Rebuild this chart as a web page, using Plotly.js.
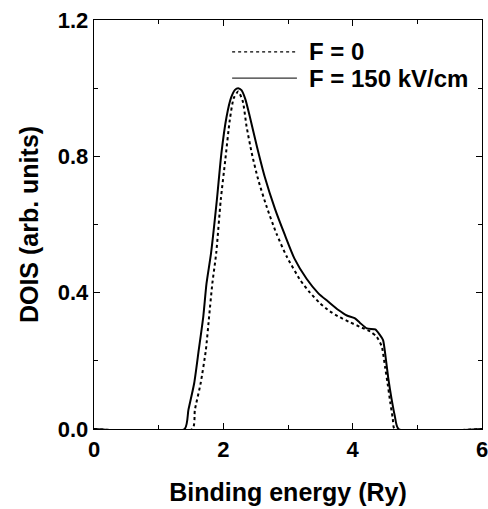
<!DOCTYPE html>
<html>
<head>
<meta charset="utf-8">
<script src="https://cdn.plot.ly/plotly-3.0.1.min.js"></script>
<style>html,body{margin:0;padding:0;background:#fff;}#chart{width:488px;height:509px;}</style>
</head>
<body>
<div id="chart"></div>
<script>
// Binding energy (Ry) and DOIS (arb. units)
var energyF0 = [0, 1.52, 1.56, 1.65, 1.73, 1.78, 1.83, 1.89, 1.96, 2.03, 2.10, 2.16, 2.23, 2.30, 2.36, 2.44, 2.54, 2.67, 2.82, 2.98, 3.19, 3.34, 3.49, 3.65, 3.80, 3.96, 4.11, 4.27, 4.37, 4.45, 4.50, 4.54, 4.58, 4.62, 4.65, 6];
var doisF0 =   [0, 0, 0.056, 0.135, 0.232, 0.33, 0.427, 0.516, 0.672, 0.789, 0.907, 0.970, 0.99, 0.962, 0.887, 0.809, 0.731, 0.652, 0.574, 0.506, 0.437, 0.40, 0.37, 0.345, 0.328, 0.313, 0.30, 0.286, 0.271, 0.242, 0.183, 0.134, 0.08, 0.031, 0, 0];

var energyF150 = [0, 1.40, 1.46, 1.55, 1.62, 1.69, 1.74, 1.81, 1.90, 1.97, 2.05, 2.12, 2.18, 2.23, 2.28, 2.34, 2.41, 2.52, 2.64, 2.80, 2.95, 3.10, 3.29, 3.47, 3.62, 3.78, 3.91, 4.03, 4.11, 4.22, 4.35, 4.42, 4.47, 4.51, 4.55, 4.60, 4.65, 4.71, 6];
var doisF150 =   [0, 0, 0.056, 0.135, 0.232, 0.33, 0.427, 0.516, 0.672, 0.809, 0.916, 0.972, 0.995, 1.0, 0.994, 0.968, 0.916, 0.828, 0.74, 0.645, 0.57, 0.50, 0.44, 0.398, 0.374, 0.349, 0.333, 0.325, 0.312, 0.295, 0.292, 0.276, 0.261, 0.21, 0.15, 0.09, 0.04, 0, 0];

var seriesNames = ["F = 0", "F = 150 kV/cm"];
var xTicks = [0, 2, 4, 6];
var yTicks = [0.0, 0.4, 0.8, 1.2];

var FONT = "Liberation Sans, Arial, Helvetica, sans-serif";

var traces = [
  {x: energyF0, y: doisF0, mode: "lines", name: seriesNames[0],
   line: {color: "#000", width: 2, dash: "dot", shape: "spline", smoothing: 0.6}, showlegend: false},
  {x: energyF150, y: doisF150, mode: "lines", name: seriesNames[1],
   line: {color: "#000", width: 2, shape: "spline", smoothing: 0.6}, showlegend: false}
];

var axisCommon = {
  showline: true, linecolor: "#000", linewidth: 1.3, mirror: "ticks",
  ticks: "inside", ticklen: 6, tickwidth: 1.3, tickcolor: "#000",
  showgrid: false, zeroline: false, fixedrange: true,
  ticklabeloverflow: "allow",
  tickfont: {family: FONT, size: 22, color: "#000", weight: "bold"},
  minor: {ticks: "inside", ticklen: 4, tickwidth: 1, tickcolor: "#000"}
};

var layout = {
  width: 488, height: 509,
  margin: {l: 94, r: 6, t: 20, b: 80},
  paper_bgcolor: "#fff", plot_bgcolor: "#fff",
  font: {family: FONT, color: "#000"},
  xaxis: Object.assign({}, axisCommon, {
    range: [0, 6], tickvals: xTicks, ticktext: xTicks.map(String),
    minor: Object.assign({}, axisCommon.minor, {tickvals: [1, 3, 5]}),
    tickfont: {family: FONT, size: 22, color: "#000", weight: "bold"},
    title: {text: "Binding energy (Ry)", font: {family: FONT, size: 25, color: "#000", weight: "bold"}, standoff: 22}
  }),
  yaxis: Object.assign({}, axisCommon, {
    range: [0, 1.2], tickvals: yTicks, ticktext: yTicks.map(function(v){return v.toFixed(1);}),
    minor: Object.assign({}, axisCommon.minor, {tickvals: [0.2, 0.6, 1.0]}),
    title: {text: "DOIS (arb. units)", font: {family: FONT, size: 25, color: "#000", weight: "bold"}, standoff: 12}
  }),
  shapes: [
    {type: "line", xref: "paper", yref: "paper", x0: 0.356, x1: 0.523, y0: 0.922, y1: 0.922,
     line: {color: "#000", width: 1.2, dash: "dot"}},
    {type: "line", xref: "paper", yref: "paper", x0: 0.356, x1: 0.523, y0: 0.858, y1: 0.858,
     line: {color: "#333", width: 1.1}}
  ],
  annotations: [
    {xref: "paper", yref: "paper", x: 0.549, y: 0.922, xanchor: "left", yanchor: "middle", showarrow: false,
     text: seriesNames[0], font: {family: FONT, size: 24, color: "#000", weight: "bold"}},
    {xref: "paper", yref: "paper", x: 0.549, y: 0.858, xanchor: "left", yanchor: "middle", showarrow: false,
     text: seriesNames[1], font: {family: FONT, size: 24, color: "#000", weight: "bold"}}
  ]
};

Plotly.newPlot("chart", traces, layout, {displayModeBar: false, staticPlot: true});
</script>
</body>
</html>
